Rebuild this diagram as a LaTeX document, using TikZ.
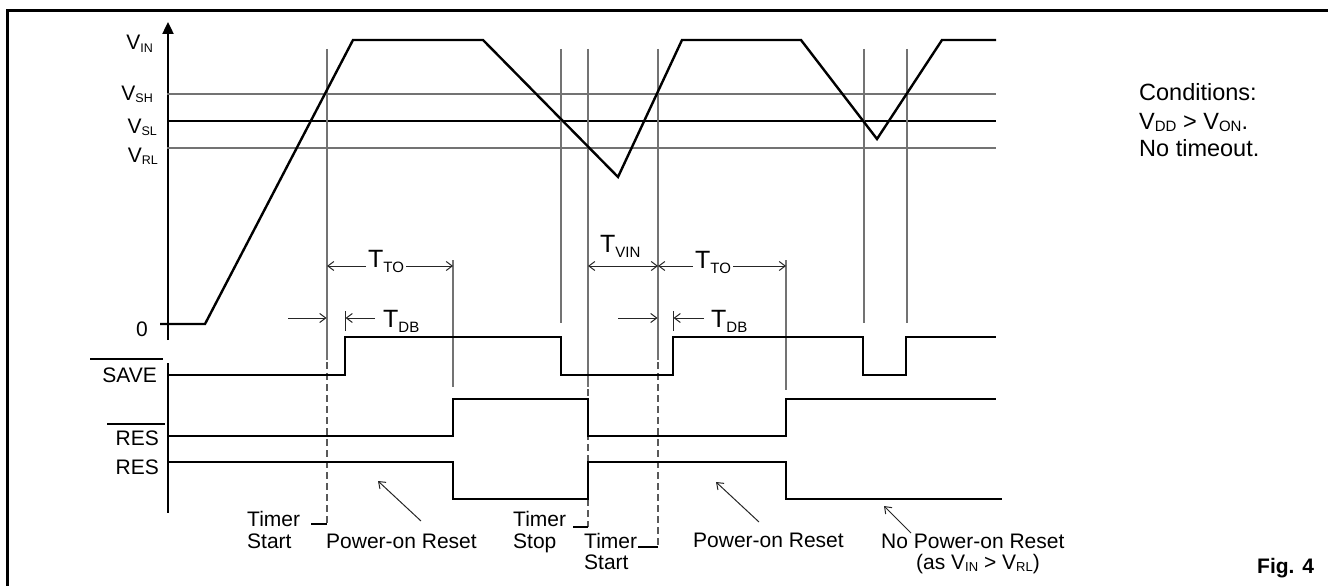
\documentclass[tikz,border=0pt]{standalone}
\usepackage{fontspec}
\setmainfont{Liberation Sans}
\usetikzlibrary{arrows.meta}
\newcommand\vsb[2][12.5]{\raisebox{-2pt}{\fontsize{#1}{#1}\selectfont #2}}
\newcommand\tsb[1]{{\fontsize{25}{25}\selectfont T}\raisebox{-5pt}{\fontsize{15}{15}\selectfont #1}}
\begin{document}
\begin{tikzpicture}[x=1pt,y=-1pt,
  sig/.style={line width=2.4pt,line join=miter},
  gline/.style={line width=1.3pt,draw=black!55},
  kline/.style={line width=1.1pt,draw=black},
  dline/.style={line width=1.3pt,draw=black!65,dash pattern=on 7pt off 4pt},
  arr/.style={line width=1pt,draw=black!85,-{Straight Barb[length=6pt,width=9pt]}},
  darr/.style={line width=1pt,draw=black!85,{Straight Barb[length=6pt,width=9pt]}-{Straight Barb[length=6pt,width=9pt]}},
  lbl/.style={inner sep=0pt,font=\fontsize{21}{22}\selectfont},
  big/.style={inner sep=0pt,font=\fontsize{23.5}{25}\selectfont},
  tlab/.style={inner xsep=2pt,inner ysep=0pt,fill=white}]
\useasboundingbox (0,0) rectangle (1328,586);
% frame
\draw[line width=3pt] (7.5,586) -- (7.5,11) -- (1328,11);
% axes
\draw[line width=2.4pt,-{Triangle[length=12pt,width=11pt]}] (168,340) -- (168,22);
\draw[line width=2.4pt] (168,363) -- (168,513);
% thresholds
\draw[gline] (167,94) -- (996,94);
\draw[kline] (167,121) -- (996,121);
\draw[gline] (167,148) -- (996,148);
% vertical markers
\draw[gline] (327,49) -- (327,360);
\draw[gline] (561,49) -- (561,323);
\draw[gline] (588,49) -- (588,387);
\draw[gline] (658,49) -- (658,360);
\draw[gline] (864,49) -- (864,323);
\draw[gline] (907,49) -- (907,323);
\draw[gline] (453,260) -- (453,387);
\draw[gline] (786,260) -- (786,390);
% dashed extensions
\draw[dline] (327,362) -- (327,524);
\draw[kline] (327,524) -- (311,524);
\draw[dline] (588,389) -- (588,527);
\draw[kline] (588,527) -- (573,527);
\draw[dline] (658,362) -- (658,547);
\draw[kline] (658,547) -- (638,547);
% V_IN waveform
\draw[sig] (160,324) -- (205,324) -- (353,40) -- (483,40) -- (618,177) -- (682,40) -- (801,40) -- (877,139) -- (942,40) -- (996,40);
% SAVE bar
\draw[sig] (168,375) -- (345,375) -- (345,337) -- (561,337) -- (561,375) -- (673,375) -- (673,337) -- (863,337) -- (863,375) -- (906,375) -- (906,337) -- (996,337);
% RES bar
\draw[sig] (168,436) -- (453,436) -- (453,399) -- (588,399) -- (588,436) -- (786,436) -- (786,399) -- (996,399);
% RES
\draw[sig] (168,462) -- (453,462) -- (453,499) -- (588,499) -- (588,462) -- (786,462) -- (786,499) -- (1002,499);
% dimension arrows
\draw[darr] (327,266) -- (453,266);
\node[tlab,anchor=base west] (tto1) at (366,267) {\tsb{TO}};
\draw[darr] (588,266) -- (658,266);
\node[inner sep=0pt,anchor=base west] (tvin) at (600,252) {\tsb{VIN}};
\draw[darr] (658,266) -- (786,266);
\node[tlab,anchor=base west] (tto2) at (693,268) {\tsb{TO}};
\draw[arr] (288,318) -- (326.5,318);
\draw[line width=1pt,draw=black!85] (345,311) -- (345,331);
\draw[arr] (375,318) -- (345.5,318);
\node[inner sep=0pt,anchor=base west] (tdb1) at (383,327) {\tsb{DB}};
\draw[arr] (618,318) -- (657.5,318);
\draw[line width=1pt,draw=black!85] (673,311) -- (673,331);
\draw[arr] (704,318) -- (673.5,318);
\node[inner sep=0pt,anchor=base west] (tdb2) at (711,327) {\tsb{DB}};
% axis labels
\node[lbl,anchor=base east] (vin) at (153,50) {V\vsb{IN}};
\node[lbl,anchor=base east] (vsh) at (153,100) {V\vsb{SH}};
\node[lbl,anchor=base east] (vsl) at (157,133) {V\vsb{SL}};
\node[lbl,anchor=base east] (vrl) at (158,162) {V\vsb{RL}};
\node[lbl,anchor=base east] (zero) at (148,336) {0};
\draw[line width=1.5pt] (160,324) -- (168,324);
\node[lbl,anchor=base east] (save) at (157,382) {SAVE};
\draw[line width=1.8pt] (90,359) -- (163,359);
\node[lbl,anchor=base east] (resb) at (159,445) {RES};
\draw[line width=1.8pt] (107,424) -- (165,424);
\node[lbl,anchor=base east] (res) at (159,474) {RES};
% bottom annotations
\node[lbl,anchor=base west] (ts1a) at (247,526) {Timer};
\node[lbl,anchor=base west] (ts1b) at (247,548) {Start};
\node[lbl,anchor=base west] (por1) at (326,548) {Power-on Reset};
\draw[arr] (421,521) -- (378,481);
\node[lbl,anchor=base west] (tsa) at (513,526) {Timer};
\node[lbl,anchor=base west] (tsb) at (513,548) {Stop};
\node[lbl,anchor=base west] (ts2a) at (584,548) {Timer};
\node[lbl,anchor=base west] (ts2b) at (584,569) {Start};
\node[lbl,anchor=base west] (por2) at (693,547) {Power-on Reset};
\draw[arr] (759,522) -- (716,482);
\node[lbl,anchor=base west] (npor) at (881,548) {No Power-on Reset};
\node[lbl,anchor=base west] (npor2) at (916,569) {(as V\vsb[13]{IN} {>} V\vsb[13]{RL})};
\draw[arr] (911,533) -- (884,506);
% conditions
\node[big,anchor=base west] (c1) at (1139,100) {Conditions:};
\node[big,anchor=base west] (c2) at (1139,129) {V\vsb[15]{DD} {>} V\vsb[15]{ON}.};
\node[big,anchor=base west] (c3) at (1139,156) {No timeout.};
\node[lbl,anchor=base west,font=\fontsize{21}{22}\selectfont\bfseries] (fig) at (1257,573) {Fig. 4};
\end{tikzpicture}
\end{document}
